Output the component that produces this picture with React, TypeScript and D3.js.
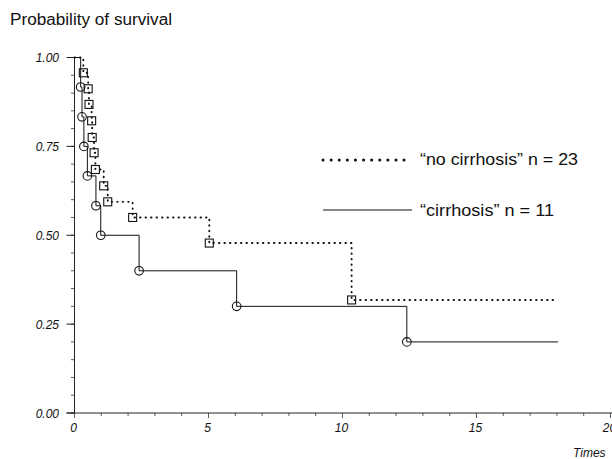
import React from "react";
import * as d3 from "d3";

const noCirrTimes = [0.33, 0.51, 0.54, 0.64, 0.66, 0.73, 0.78, 1.09, 1.24, 2.17, 5.03, 10.34];
const noCirrSurv = [0.957, 0.912, 0.868, 0.822, 0.775, 0.732, 0.685, 0.639, 0.594, 0.55, 0.478, 0.318];
const cirrTimes = [0.23, 0.28, 0.35, 0.48, 0.8, 0.98, 2.41, 6.05, 12.4];
const cirrSurv = [0.917, 0.833, 0.75, 0.667, 0.583, 0.5, 0.4, 0.3, 0.2];
const endTime = 18.04;
const xMajorTicks = [0, 5, 10, 15, 20];
const yMajorTicks = [0, 0.25, 0.5, 0.75, 1.0];
const legendLabels = ["\u201cno cirrhosis\u201d n = 23", "\u201ccirrhosis\u201d n = 11"];

const W = 612;
const H = 459;

export default function App() {
  const x = d3.scaleLinear().domain([0, 20]).range([74.5, 610.5]);
  const y = d3.scaleLinear().domain([0, 1]).range([413, 57.5]);

  const stepPts = (times: number[], surv: number[]) => {
    const pts: [number, number][] = [[0, 1]];
    times.forEach((t, i) => pts.push([t, surv[i]]));
    pts.push([endTime, surv[surv.length - 1]]);
    return pts;
  };
  const line = d3
    .line<[number, number]>()
    .x((d) => x(d[0]))
    .y((d) => y(d[1]))
    .curve(d3.curveStepAfter);

  const xMinor = d3.range(0, 21, 1);
  const yMinor = d3.range(0, 1.0001, 0.05);
  const font = "Liberation Sans, Arial, sans-serif";

  return (
    <svg
      width={W}
      height={H}
      style={{ position: "absolute", left: 0, top: 0, background: "#fff" }}
      fontFamily={font}
    >
      <rect width={W} height={H} fill="#fff" />
      <text x={10} y={25} fontSize={16} fill="#111" textLength={162} lengthAdjust="spacingAndGlyphs">
        Probability of survival
      </text>

      {/* y axis */}
      <line x1={x(0)} x2={x(0)} y1={y(1)} y2={y(0)} stroke="#222" strokeWidth={1} />
      {yMinor.map((v, i) => (
        <line key={"ym" + i} x1={x(0) - 3.5} x2={x(0)} y1={y(v)} y2={y(v)} stroke="#333" strokeWidth={0.8} />
      ))}
      {yMajorTicks.map((v) => (
        <g key={"yM" + v}>
          <line x1={x(0) - 8} x2={x(0)} y1={y(v)} y2={y(v)} stroke="#222" strokeWidth={1} />
          <text x={59} y={y(v) + 4.5} fontSize={12} fontStyle="italic" textAnchor="end" fill="#111">
            {v.toFixed(2)}
          </text>
        </g>
      ))}

      {/* x axis */}
      <line x1={x(0) - 8} x2={W} y1={y(0)} y2={y(0)} stroke="#222" strokeWidth={1} />
      {xMinor.map((v) => (
        <line key={"xm" + v} x1={x(v)} x2={x(v)} y1={y(0)} y2={y(0) + (v % 5 === 0 ? 5 : 3)} stroke="#333" strokeWidth={0.8} />
      ))}
      {xMajorTicks.map((v) => (
        <text key={"xl" + v} x={x(v) - 1} y={y(0) + 19} fontSize={12} fontStyle="italic" textAnchor="middle" fill="#111">
          {v}
        </text>
      ))}
      <text x={573} y={457} fontSize={12} fontStyle="italic" fill="#111">
        Times
      </text>

      {/* curves */}
      <path
        d={line(stepPts(noCirrTimes, noCirrSurv)) || ""}
        fill="none"
        stroke="#111"
        strokeWidth={1.9}
        strokeDasharray="0.5,5"
        strokeLinecap="round"
      />
      <path d={line(stepPts(cirrTimes, cirrSurv)) || ""} fill="none" stroke="#111" strokeWidth={1} />

      {noCirrTimes.map((t, i) => (
        <rect
          key={"sq" + i}
          x={x(t) - 4}
          y={y(noCirrSurv[i]) - 4}
          width={8}
          height={8}
          fill="none"
          stroke="#111"
          strokeWidth={1.1}
        />
      ))}
      {cirrTimes.map((t, i) => (
        <circle key={"ci" + i} cx={x(t)} cy={y(cirrSurv[i])} r={4.3} fill="none" stroke="#111" strokeWidth={1.1} />
      ))}

      {/* legend */}
      <line
        x1={323}
        x2={412}
        y1={160}
        y2={160}
        stroke="#111"
        strokeWidth={3}
        strokeDasharray="0.1,8"
        strokeLinecap="round"
      />
      <text x={420} y={165} fontSize={16.5} fill="#111" textLength={158} lengthAdjust="spacingAndGlyphs">
        {legendLabels[0]}
      </text>
      <line x1={323} x2={412} y1={210} y2={210} stroke="#111" strokeWidth={1.2} />
      <text x={420} y={216} fontSize={16.5} fill="#111" textLength={134} lengthAdjust="spacingAndGlyphs">
        {legendLabels[1]}
      </text>
    </svg>
  );
}
